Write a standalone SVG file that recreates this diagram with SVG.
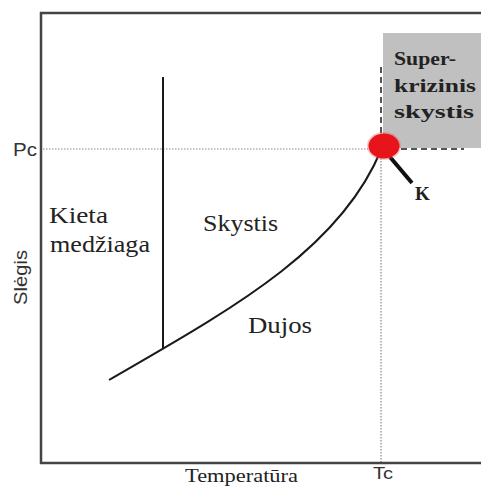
<svg xmlns="http://www.w3.org/2000/svg" width="481" height="488" viewBox="0 0 481 488">
<style>
.axis{stroke:#444;stroke-width:2.5;fill:none}
.dot{stroke:#888;stroke-width:1.2;stroke-dasharray:1.5 1.5;fill:none}
.dash{stroke:#555;stroke-width:2;stroke-dasharray:6 4;fill:none}
.line{stroke:#1a1a1a;stroke-width:2;fill:none}
</style>
<rect width="481" height="488" fill="#fff"/>
<g id="supercritical-region">
<rect x="383" y="33" width="98" height="115" fill="#c0c0c0"/>
<g font-family="Liberation Serif" font-weight="bold" font-size="19" fill="#222">
<text x="394" y="65" textLength="62" lengthAdjust="spacingAndGlyphs">Super-</text>
<text x="394" y="92" textLength="82" lengthAdjust="spacingAndGlyphs">krizinis</text>
<text x="394" y="118" textLength="80" lengthAdjust="spacingAndGlyphs">skystis</text>
</g>
</g>
<g id="guides">
<line class="dot" x1="43" y1="149" x2="368" y2="149"/>
<line class="dash" x1="401" y1="149" x2="464" y2="149"/>
<line class="dot" x1="381" y1="158" x2="381" y2="462"/>
<line class="dash" x1="381" y1="67" x2="381" y2="133"/>
</g>
<g id="axes">
<polyline class="axis" points="481,13 41,13 41,463 481,463"/>
</g>
<g id="connectors">
<line class="line" x1="163" y1="77" x2="163" y2="348" stroke-width="1.8"/>
<path class="line" d="M109,380 C230,310 340,250 381,150"/>
<line x1="390" y1="157" x2="412" y2="183" stroke="#111" stroke-width="4"/>
</g>
<g id="critical-point">
<ellipse cx="384" cy="146" rx="17" ry="14" fill="#f05a5a" opacity="0.35"/>
<ellipse cx="384" cy="146" rx="15.5" ry="12.5" fill="#e8141c"/>
<text x="415" y="200" font-size="19" font-family="Liberation Serif" font-weight="bold" fill="#222">K</text>
</g>
<g id="labels" font-family="Liberation Serif" fill="#222">
<text x="49" y="223" font-size="24" textLength="59" lengthAdjust="spacingAndGlyphs">Kieta</text>
<text x="50" y="252" font-size="24" textLength="100" lengthAdjust="spacingAndGlyphs">medžiaga</text>
<text x="203" y="231" font-size="24" textLength="75" lengthAdjust="spacingAndGlyphs">Skystis</text>
<text x="248" y="333" font-size="24" textLength="64" lengthAdjust="spacingAndGlyphs">Dujos</text>
<text x="185" y="482" font-size="18" textLength="113" lengthAdjust="spacingAndGlyphs">Temperatūra</text>
</g>
<g id="axis-marks" font-family="Liberation Sans" fill="#333">
<text x="373" y="479" font-size="17" textLength="20" lengthAdjust="spacingAndGlyphs">Tc</text>
<text x="13" y="156" font-size="18" textLength="24" lengthAdjust="spacingAndGlyphs">Pc</text>
<text x="0" y="0" font-size="19" transform="translate(27,305) rotate(-90)" textLength="55" lengthAdjust="spacingAndGlyphs">Slėgis</text>
</g>
</svg>
